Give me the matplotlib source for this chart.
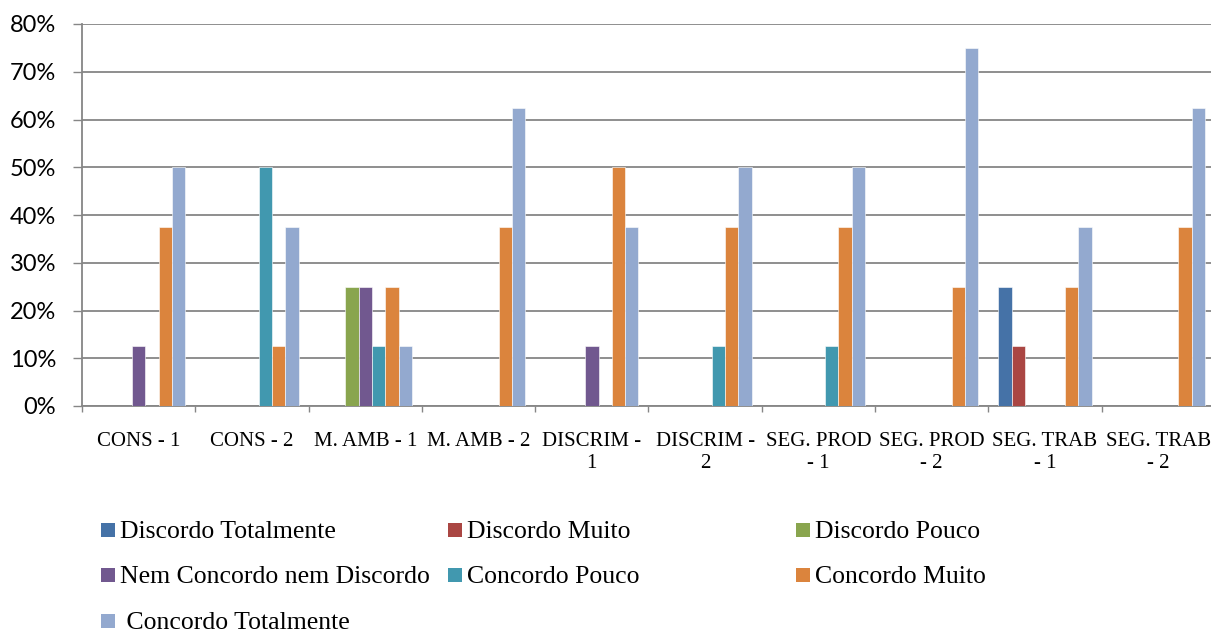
import matplotlib
matplotlib.use("Agg")
import matplotlib.pyplot as plt
from matplotlib.patches import Rectangle
import numpy as np

categories = ["CONS - 1", "CONS - 2", "M. AMB - 1", "M. AMB - 2", "DISCRIM -\n1",
              "DISCRIM -\n2", "SEG. PROD\n- 1", "SEG. PROD\n- 2", "SEG. TRAB\n- 1",
              "SEG. TRAB\n- 2"]

series_names = ["Discordo Totalmente", "Discordo Muito", "Discordo Pouco",
                "Nem Concordo nem Discordo", "Concordo Pouco", "Concordo Muito",
                " Concordo Totalmente"]

discordo_totalmente = [0, 0, 0, 0, 0, 0, 0, 0, 25, 0]
discordo_muito = [0, 0, 0, 0, 0, 0, 0, 0, 12.5, 0]
discordo_pouco = [0, 0, 25, 0, 0, 0, 0, 0, 0, 0]
nem_concordo = [12.5, 0, 25, 0, 12.5, 0, 0, 0, 0, 0]
concordo_pouco = [0, 50, 12.5, 0, 0, 12.5, 12.5, 0, 0, 0]
concordo_muito = [37.5, 12.5, 25, 37.5, 50, 37.5, 37.5, 25, 25, 37.5]
concordo_totalmente = [50, 37.5, 12.5, 62.5, 37.5, 50, 50, 75, 37.5, 62.5]

series_values = [discordo_totalmente, discordo_muito, discordo_pouco, nem_concordo,
                 concordo_pouco, concordo_muito, concordo_totalmente]

colors = ["#4572A7", "#AA4643", "#89A54E", "#71588F", "#4198AF", "#DB843D", "#93A9CF"]

W, H = 1211, 632
fig = plt.figure(figsize=(W / 100, H / 100), dpi=100)
ax = fig.add_axes([82 / W, 1 - 406 / H, 1133 / W, 382 / H])

n_series = len(series_values)
bar_w = 0.1175
x0 = np.arange(len(categories))
start = 0.5 - n_series * bar_w / 2
grid_col = "#868686"

for j, (vals, col) in enumerate(zip(series_values, colors)):
    xs = x0 + start + (j + 0.5) * bar_w
    ax.bar(xs, vals, width=bar_w, color=col, edgecolor="white", linewidth=0.4,
           zorder=3)

ax.set_xlim(0, len(categories))
ax.set_ylim(0, 80)

# y axis
ax.set_yticks(np.arange(0, 81, 10))
ax.set_yticklabels([f"{v}%" for v in range(0, 81, 10)], fontfamily="Lato",
                   fontsize=17)
ax.yaxis.grid(True, color=grid_col, linewidth=1.3, zorder=0)
ax.tick_params(axis="y", direction="out", length=6.5, width=1.0, color=grid_col,
               pad=12)

# x axis: tick marks on category boundaries, labels at centers
ax.set_xticks(np.arange(0, len(categories) + 1), minor=False)
ax.set_xticklabels([])
ax.tick_params(axis="x", which="major", direction="out", length=4.5, width=1.0,
               color=grid_col)
ax.set_xticks(x0 + 0.5, minor=True)
ax.set_xticklabels(categories, minor=True, fontfamily="Liberation Serif",
                   fontsize=15, linespacing=1.22, va="top")
ax.tick_params(axis="x", which="minor", length=0, pad=19)

for side in ["top", "right"]:
    ax.spines[side].set_visible(False)
for side in ["left", "bottom"]:
    ax.spines[side].set_color(grid_col)
    ax.spines[side].set_linewidth(1.3)

# legend laid out in three fixed-width columns
col_x = [101, 448, 796]
row_y = [529.5, 575, 621]
sq = 14
for k, (name, col) in enumerate(zip(series_names, colors)):
    c, r = k % 3, k // 3
    mx, my = col_x[c], row_y[r]
    fig.patches.append(Rectangle((mx / W, 1 - (my + sq / 2) / H), sq / W, sq / H,
                                 transform=fig.transFigure, facecolor=col,
                                 edgecolor="none"))
    fig.text((mx + sq + 5) / W, 1 - (my + 8) / H, name,
             fontfamily="Liberation Serif", fontsize=18.5, va="baseline", ha="left")

fig.savefig("out.png", dpi=100)
